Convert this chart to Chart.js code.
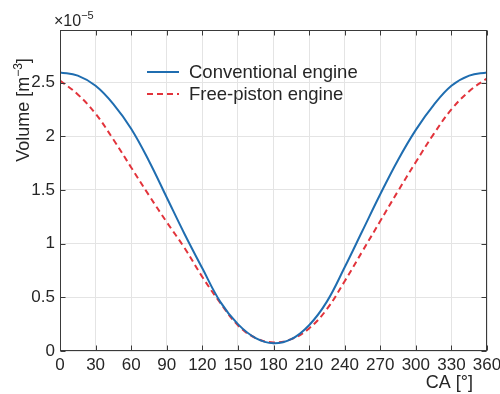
<!DOCTYPE html>
<html>
<head>
<meta charset="utf-8">
<script src="https://cdn.jsdelivr.net/npm/chart.js@4.4.1/dist/chart.umd.min.js"></script>
<style>
  html, body { margin: 0; padding: 0; background: #fff; }
  #wrap { width: 500px; height: 394px; }
</style>
</head>
<body>
<div id="wrap"><canvas id="myChart"></canvas></div>
<script>
// crank angle [deg]
const angles = [0, 15, 30, 45, 60, 75, 90, 105, 120, 135, 150, 165, 180,
                195, 210, 225, 240, 255, 270, 285, 300, 315, 330, 345, 360];
// volume, in units of 1e-5 m^3
const conventional = [2.595, 2.565, 2.47, 2.30, 2.07, 1.77, 1.43, 1.09, 0.77, 0.46, 0.25, 0.12, 0.072,
                      0.11, 0.24, 0.46, 0.78, 1.12, 1.46, 1.78, 2.06, 2.29, 2.47, 2.565, 2.595];
const freePiston = [2.52, 2.39, 2.21, 1.97, 1.71, 1.45, 1.20, 0.96, 0.69, 0.45, 0.24, 0.12, 0.08,
                    0.11, 0.21, 0.39, 0.65, 0.93, 1.21, 1.49, 1.76, 2.02, 2.25, 2.42, 2.54];
const seriesNames = ['Conventional engine', 'Free-piston engine'];
const xTicks = [0, 30, 60, 90, 120, 150, 180, 210, 240, 270, 300, 330, 360];
const yTicks = [0, 0.5, 1, 1.5, 2, 2.5];

const FONT = '"Liberation Sans", Arial, sans-serif';
const TXT = '#262626';

const pts = (ys) => angles.map((a, i) => ({x: a, y: ys[i]}));

// box, inward ticks, axis titles, exponent label, legend
const frame = {
  id: 'frame',
  afterDraw(chart) {
    const {ctx, chartArea: a, scales: {x, y}} = chart;
    ctx.save();
    ctx.strokeStyle = '#3a3a3a';
    ctx.lineWidth = 1;
    const L = Math.round(a.left) + 0.5, R = Math.round(a.right) - 0.5;
    const T = Math.round(a.top) + 0.5, B = Math.round(a.bottom) - 0.5;
    ctx.strokeRect(L, T, R - L, B - T);
    ctx.beginPath();
    xTicks.forEach(v => {
      const px = Math.round(x.getPixelForValue(v)) + 0.5;
      ctx.moveTo(px, B); ctx.lineTo(px, B - 5);
      ctx.moveTo(px, T); ctx.lineTo(px, T + 5);
    });
    yTicks.forEach(v => {
      const py = Math.round(y.getPixelForValue(v)) + 0.5;
      ctx.moveTo(L, py); ctx.lineTo(L + 5, py);
      ctx.moveTo(R, py); ctx.lineTo(R - 5, py);
    });
    ctx.stroke();

    ctx.fillStyle = TXT;
    ctx.textBaseline = 'alphabetic';

    // x title
    ctx.font = '18px ' + FONT;
    ctx.textAlign = 'right';
    ctx.fillText('CA [°]', 473, 388);

    // exponent
    ctx.textAlign = 'left';
    ctx.font = '16px ' + FONT;
    ctx.fillText('×10', 54, 26);
    const w10 = ctx.measureText('×10').width;
    ctx.font = '11px ' + FONT;
    ctx.fillText('−5', 54 + w10, 19);

    // y title, rotated
    ctx.save();
    ctx.translate(29, 110);
    ctx.rotate(-Math.PI / 2);
    ctx.font = '18px ' + FONT;
    const p1 = 'Volume [m', p3 = ']';
    const w1 = ctx.measureText(p1).width, w3 = ctx.measureText(p3).width;
    ctx.font = '12px ' + FONT;
    const w2 = ctx.measureText('−3').width;
    let sx = -(w1 + w2 + w3) / 2;
    ctx.font = '18px ' + FONT;
    ctx.fillText(p1, sx, 0);
    ctx.font = '12px ' + FONT;
    ctx.fillText('−3', sx + w1, -7);
    ctx.font = '18px ' + FONT;
    ctx.fillText(p3, sx + w1 + w2, 0);
    ctx.restore();

    // legend inside the axes
    ctx.font = '18.5px ' + FONT;
    chart.data.datasets.forEach((ds, i) => {
      const ly = 72 + i * 22;
      ctx.save();
      ctx.strokeStyle = ds.borderColor;
      ctx.lineWidth = ds.borderWidth;
      ctx.setLineDash(ds.borderDash || []);
      ctx.beginPath();
      ctx.moveTo(147, ly); ctx.lineTo(179, ly);
      ctx.stroke();
      ctx.restore();
      ctx.textBaseline = 'middle';
      ctx.fillText(ds.label, 189, ly + 1);
    });
    ctx.restore();
  }
};

new Chart(document.getElementById('myChart'), {
  type: 'line',
  data: {
    datasets: [{
      label: seriesNames[0],
      data: pts(conventional),
      borderColor: '#1f6db0',
      borderWidth: 2,
      pointRadius: 0,
      tension: 0.4
    }, {
      label: seriesNames[1],
      data: pts(freePiston),
      borderColor: '#e2333b',
      borderWidth: 2,
      borderDash: [6, 4],
      pointRadius: 0,
      tension: 0.4
    }]
  },
  options: {
    responsive: true,
    maintainAspectRatio: false,
    animation: false,
    layout: { padding: { left: 0, right: 13, top: 30, bottom: 0 } },
    plugins: { legend: { display: false }, tooltip: { enabled: false } },
    scales: {
      x: {
        type: 'linear',
        min: 0, max: 360,
        afterBuildTicks: (s) => { s.ticks = xTicks.map(v => ({value: v})); },
        afterFit: (s) => { s.height = 43; s.paddingLeft = 0; s.paddingRight = 0; },
        ticks: { color: TXT, font: { family: FONT, size: 17 }, padding: 4, maxRotation: 0, autoSkip: false,
                 callback: (v) => String(v) },
        grid: { color: '#e4e4e4', drawTicks: false },
        border: { display: false }
      },
      y: {
        type: 'linear',
        min: 0, max: 2.99,
        afterBuildTicks: (s) => { s.ticks = yTicks.map(v => ({value: v})); },
        afterFit: (s) => { s.width = 60; s.paddingTop = 0; s.paddingBottom = 0; },
        ticks: { color: TXT, font: { family: FONT, size: 17 }, padding: 5, autoSkip: false,
                 callback: (v) => String(v) },
        grid: { color: '#e4e4e4', drawTicks: false },
        border: { display: false }
      }
    }
  },
  plugins: [frame]
});
</script>
</body>
</html>
